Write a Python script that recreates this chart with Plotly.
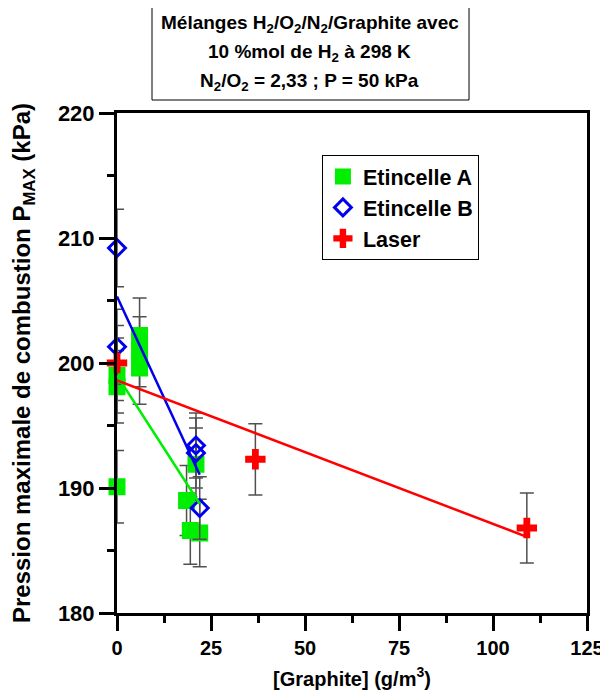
import numpy as np
import plotly.graph_objects as go

# graphite concentration (g/m3) and max pressure (kPa)
spark_a_x = [0, 0, 0, 6, 6, 6, 18.5, 19.5, 21, 22]
spark_a_y = [199.0, 198.1, 190.1, 202.2, 200.9, 199.6, 189.0, 186.6, 191.9, 186.4]
spark_a_err = [3.0, 2.9, 2.9, 3.0, 2.8, 2.9, 2.8, 2.7, 2.9, 2.7]

spark_b_x = [0, 0, 21, 21, 22]
spark_b_y = [209.2, 201.3, 193.4, 192.8, 188.4]
spark_b_err = [3.1, 3.0, 2.6, 2.8, 2.5]

laser_x = [0, 36.8, 109]
laser_y = [200.0, 192.3, 186.8]
laser_err = [3.0, 2.85, 2.8]

FONT = "Liberation Sans, Arial, sans-serif"
ERR_COLOR = "#505050"

series = [
    ("Etincelle A", spark_a_x, spark_a_y, spark_a_err,
     dict(symbol="square", size=17, color="#00ee00"), "#00ee00"),
    ("Etincelle B", spark_b_x, spark_b_y, spark_b_err,
     dict(symbol="diamond-open", size=13, color="#0000ee", line=dict(width=3, color="#0000ee")), "#0000ee"),
    ("Laser", laser_x, laser_y, laser_err,
     dict(symbol="cross", size=17, color="#ff0000", line=dict(width=0)), "#ff0000"),
]

fig = go.Figure()

for name, x, y, err, marker, color in series:
    fig.add_trace(go.Scatter(
        x=x, y=y, mode="markers", name=name, marker=marker, cliponaxis=False,
        error_y=dict(type="data", array=err, visible=True,
                     color=ERR_COLOR, thickness=1.5, width=7),
    ))

# linear fits drawn over each series' range
for name, x, y, err, marker, color in series:
    slope, intercept = np.polyfit(x, y, 1)
    xs = np.array([min(x), max(x)])
    fig.add_trace(go.Scatter(
        x=xs, y=slope * xs + intercept, mode="lines",
        line=dict(color=color, width=2.5), showlegend=False, hoverinfo="skip",
    ))

axis_common = dict(
    showline=True, linewidth=3, linecolor="black", mirror=True,
    ticks="outside", ticklen=15, tickwidth=3, tickcolor="black",
    showgrid=False, zeroline=False, automargin=False,
)

fig.update_xaxes(
    range=[0, 125], dtick=25, tick0=0,
    tickfont=dict(family=FONT, size=20, color="black", weight="bold"),
    minor=dict(ticks="outside", ticklen=7, tickwidth=3, dtick=12.5, tick0=0, tickcolor="black"),
    title=dict(text="[Graphite] (g/m<sup>3</sup>)", standoff=14,
               font=dict(family=FONT, size=20, color="black", weight="bold")),
    **axis_common,
)
fig.update_yaxes(
    range=[180, 220], dtick=10, tick0=180,
    tickfont=dict(family=FONT, size=22, color="black", weight="bold"),
    minor=dict(ticks="outside", ticklen=7, tickwidth=3, dtick=5, tick0=180, tickcolor="black"),
    title=dict(text="Pression maximale de combustion P<sub>MAX</sub> (kPa)", standoff=24,
               font=dict(family=FONT, size=24, color="black", weight="bold")),
    **axis_common,
)

box_lines = [
    ("Mélanges H<sub>2</sub>/O<sub>2</sub>/N<sub>2</sub>/Graphite avec", 1.178),
    ("10 %mol de H<sub>2</sub> à 298 K", 1.120),
    ("N<sub>2</sub>/O<sub>2</sub> = 2,33 ; P = 50 kPa", 1.062),
]
for text, ypos in box_lines:
    fig.add_annotation(
        text=text, x=0.41, y=ypos, xref="paper", yref="paper",
        showarrow=False, xanchor="center", yanchor="middle",
        font=dict(family=FONT, size=19, color="black", weight="bold"),
    )

fig.add_shape(type="rect", xref="paper", yref="paper",
              x0=0.0745, x1=0.749, y0=1.026, y1=1.22,
              line=dict(color="black", width=1), fillcolor="white", layer="below")

# the page body adds an 8 px offset, so the figure is 8 px smaller
fig.update_layout(
    width=600, height=687,
    margin=dict(l=109, r=21, t=105, b=82),
    paper_bgcolor="white", plot_bgcolor="white",
    font=dict(family=FONT, color="black"),
    legend=dict(
        x=0.436, y=0.916, xanchor="left", yanchor="top",
        bgcolor="white", bordercolor="black", borderwidth=1,
        font=dict(family=FONT, size=21.5, color="black", weight="bold"),
    ),
)

fig.write_html("out.html")
